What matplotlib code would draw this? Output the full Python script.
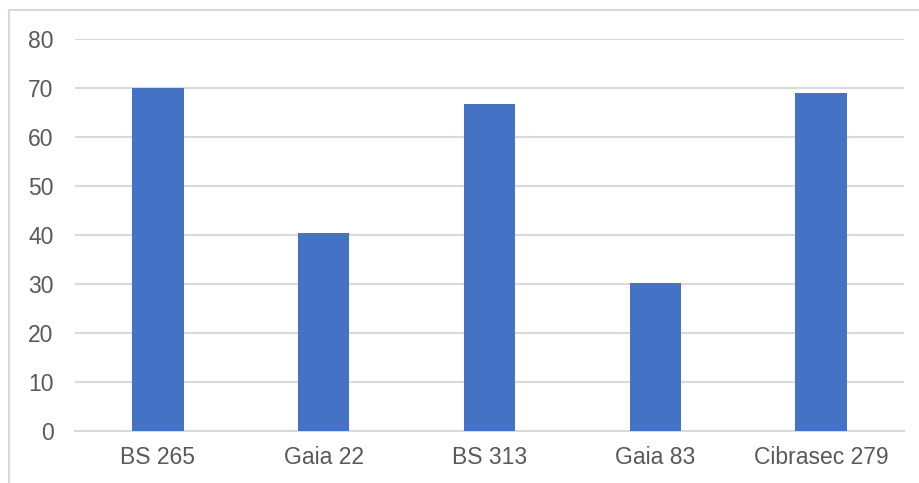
import matplotlib
matplotlib.use("Agg")
import matplotlib.pyplot as plt
from matplotlib.lines import Line2D

categories = ["BS 265", "Gaia 22", "BS 313", "Gaia 83", "Cibrasec 279"]
values = [70, 40.4, 66.7, 30.2, 69.0]
yticks = [0, 10, 20, 30, 40, 50, 60, 70, 80]

plt.rcParams['font.family'] = ['Liberation Sans', 'DejaVu Sans']

fig = plt.figure(figsize=(9.2, 4.83), dpi=100)
ax = fig.add_axes([75 / 920, 1 - 431 / 483, (904 - 75) / 920, (431 - 39) / 483])

ax.bar(categories, values, width=0.31, color="#4472C4", zorder=3)
ax.set_ylim(0, 80)
ax.set_xlim(-0.5, len(categories) - 0.5)
ax.set_yticks(yticks)
ax.grid(axis='y', color="#d9d9d9", linewidth=1.5, zorder=0)

for side in ("top", "right", "left"):
    ax.spines[side].set_visible(False)
ax.spines["bottom"].set_color("#d9d9d9")
ax.spines["bottom"].set_linewidth(1.5)

ax.tick_params(axis='both', length=0, labelsize=16.5, labelcolor="#595959")
ax.tick_params(axis='y', pad=15.5)
ax.tick_params(axis='x', pad=11)

# light frame around the chart (left and top edges visible)
fig.add_artist(Line2D([9.5 / 920, 9.5 / 920], [0, 1 - 9.5 / 483], color="#d9d9d9", linewidth=1.5))
fig.add_artist(Line2D([9.5 / 920, 1], [1 - 9.5 / 483, 1 - 9.5 / 483], color="#d9d9d9", linewidth=1.5))

fig.savefig("out.png", dpi=100)
